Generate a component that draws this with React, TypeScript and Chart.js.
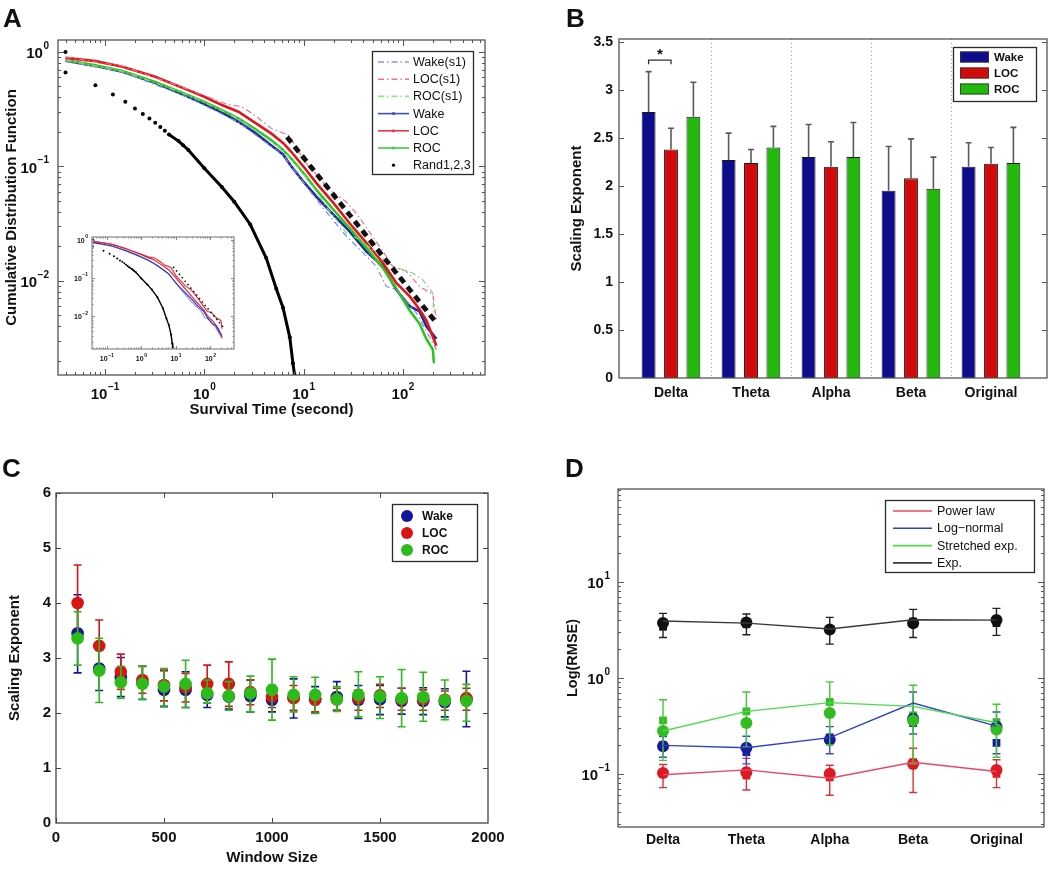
import React, { useEffect, useRef } from "react";
import { Chart, registerables } from "chart.js";
Chart.register(...registerables);

const SANS = '"Liberation Sans", Arial, Helvetica, sans-serif';
const FRAME = "#3c3c3c";
const DASHDOT = [6, 3, 1.5, 3];

// ================= Panel A : survival CDF =================
const survT = [0.04, 0.08, 0.15, 0.32, 0.69, 1.0, 1.5, 2.2, 3.2, 4.7, 6.2, 7.5, 10, 13.5, 20, 29, 43, 63, 86, 117, 147, 172, 217];
const wakeCdf = [0.835, 0.755, 0.67, 0.537, 0.405, 0.35, 0.296, 0.245, 0.198, 0.153, 0.127, 0.1, 0.073, 0.054, 0.0376, 0.027, 0.018, 0.0133, 0.0083, 0.006, 0.0054, 0.004, 0.0031];
const locCdf = [0.887, 0.83, 0.74, 0.605, 0.463, 0.405, 0.343, 0.3, 0.242, 0.194, 0.16, 0.134, 0.099, 0.071, 0.0476, 0.0318, 0.0213, 0.0143, 0.0095, 0.0073, 0.0056, 0.0045, 0.0027];
const rocT = [0.04, 0.08, 0.15, 0.32, 0.69, 1.0, 1.5, 2.2, 3.2, 4.7, 6.2, 7.5, 10, 13.5, 20, 29, 43, 63, 86, 117, 147, 172, 200, 205];
const rocCdf = [0.846, 0.765, 0.68, 0.547, 0.419, 0.366, 0.31, 0.262, 0.214, 0.17, 0.139, 0.117, 0.087, 0.062, 0.0417, 0.0288, 0.0193, 0.0129, 0.0085, 0.0055, 0.0042, 0.0031, 0.0025, 0.0019];
const wakeS1T = [0.04, 0.15, 0.69, 2.2, 6.2, 10, 13.5, 18.4, 27, 39.7, 54, 68, 86, 137, 217];
const wakeS1Cdf = [0.83, 0.665, 0.4, 0.243, 0.125, 0.072, 0.051, 0.0365, 0.0244, 0.0175, 0.0133, 0.0089, 0.0084, 0.0052, 0.0025];
const locS1T = [0.04, 0.15, 0.69, 1.6, 2.4, 3.2, 4.7, 6.9, 7.3, 10, 13.5, 18.4, 26.8, 33.8, 46.5, 63, 79, 108, 147, 200, 217];
const locS1Cdf = [0.9, 0.75, 0.47, 0.354, 0.33, 0.28, 0.215, 0.188, 0.181, 0.113, 0.084, 0.062, 0.049, 0.039, 0.0263, 0.018, 0.0133, 0.0121, 0.0089, 0.0076, 0.0046];
const rocS1T = [0.04, 0.15, 0.69, 2.2, 6.2, 10, 13.5, 17, 21.4, 27, 36.5, 54, 79, 125, 158, 200, 205];
const rocS1Cdf = [0.85, 0.68, 0.42, 0.262, 0.139, 0.085, 0.06, 0.044, 0.034, 0.026, 0.023, 0.0175, 0.0133, 0.0117, 0.0102, 0.0078, 0.0046];
const randT = [0.04, 0.04, 0.08, 0.12, 0.16, 0.2, 0.24, 0.28, 0.32, 0.36, 0.4, 0.44, 0.55, 0.61, 0.69, 1.0, 1.5, 2.0, 2.9, 4.2, 5.3, 6.2, 7.25, 7.8, 8.1];
const randCdf = [1.0, 0.66, 0.51, 0.425, 0.366, 0.32, 0.286, 0.262, 0.24, 0.22, 0.205, 0.19, 0.166, 0.153, 0.139, 0.096, 0.066, 0.049, 0.031, 0.0158, 0.0085, 0.0058, 0.0032, 0.0019, 0.0015];
const fitT = [6.8, 212];
const fitCdf = [0.18, 0.0044];
const insetFitT = [8.3, 245];
const insetFitCdf = [0.194, 0.0048];
const aTickX = [0.1, 1, 10, 100];
const aTickXExp = ["−1", "0", "1", "2"];
const aTickY = [1, 0.1, 0.01];
const aTickYExp = ["0", "−1", "−2"];
const aLegend = ["Wake(s1)", "LOC(s1)", "ROC(s1)", "Wake", "LOC", "ROC", "Rand1,2,3"];

// ================= Panel B : scaling exponents per band =================
const bands = ["Delta", "Theta", "Alpha", "Beta", "Original"];
const bandPos = [1, 2, 3, 4, 5];
const bWake = [2.77, 2.27, 2.3, 1.95, 2.2];
const bWakeErr = [3.19, 2.55, 2.64, 2.41, 2.45];
const bLoc = [2.38, 2.24, 2.2, 2.08, 2.23];
const bLocErr = [2.6, 2.38, 2.46, 2.49, 2.4];
const bRoc = [2.72, 2.4, 2.3, 1.97, 2.24];
const bRocErr = [3.08, 2.62, 2.66, 2.3, 2.61];
const bTicks = [0, 0.5, 1, 1.5, 2, 2.5, 3, 3.5];
const bSeparators = [1.5, 2.5, 3.5, 4.5];
const bSigLevel = 3.31;
const groups = ["Wake", "LOC", "ROC"];

// ================= Panel C : exponent vs window size =================
const windowSize = [100, 200, 300, 400, 500, 600, 700, 800, 900, 1000, 1100, 1200, 1300, 1400, 1500, 1600, 1700, 1800, 1900];
const cWake = [3.45, 2.81, 2.65, 2.55, 2.42, 2.42, 2.33, 2.3, 2.31, 2.24, 2.28, 2.25, 2.29, 2.24, 2.25, 2.22, 2.22, 2.2, 2.25];
const cWakeLo = [2.73, 2.41, 2.3, 2.25, 2.12, 2.1, 2.1, 2.07, 2.02, 2.02, 1.91, 2.0, 2.05, 1.9, 1.97, 1.98, 1.97, 1.93, 1.75];
const cWakeHi = [4.15, 3.2, 3.01, 2.85, 2.77, 2.75, 2.55, 2.55, 2.6, 2.5, 2.62, 2.48, 2.57, 2.5, 2.5, 2.45, 2.46, 2.44, 2.76];
const cLoc = [4.0, 3.22, 2.75, 2.6, 2.51, 2.47, 2.53, 2.53, 2.38, 2.3, 2.27, 2.24, 2.25, 2.27, 2.32, 2.25, 2.25, 2.24, 2.27];
const cLocLo = [3.31, 2.75, 2.43, 2.36, 2.22, 2.2, 2.18, 2.12, 2.15, 2.1, 2.05, 2.02, 2.05, 2.05, 2.1, 2.05, 2.05, 2.05, 2.05];
const cLocHi = [4.69, 3.69, 3.07, 2.85, 2.78, 2.72, 2.87, 2.93, 2.6, 2.5, 2.5, 2.4, 2.45, 2.42, 2.52, 2.45, 2.42, 2.4, 2.45];
const cRoc = [3.36, 2.77, 2.56, 2.53, 2.48, 2.53, 2.36, 2.31, 2.36, 2.42, 2.33, 2.33, 2.25, 2.33, 2.3, 2.27, 2.29, 2.23, 2.22];
const cRocLo = [2.87, 2.19, 2.27, 2.24, 2.11, 2.1, 2.18, 2.05, 2.02, 1.87, 2.02, 1.99, 2.03, 1.93, 1.9, 1.75, 1.85, 1.88, 1.85];
const cRocHi = [3.84, 3.36, 2.85, 2.84, 2.81, 2.96, 2.6, 2.57, 2.67, 2.98, 2.66, 2.65, 2.48, 2.75, 2.66, 2.79, 2.74, 2.6, 2.52];
const cTickX = [0, 500, 1000, 1500, 2000];
const cTickY = [0, 1, 2, 3, 4, 5, 6];

// ================= Panel D : fit errors =================
const dLegend = ["Power law", "Log−normal", "Stretched exp.", "Exp."];
const dPowLine = [0.098, 0.11, 0.09, 0.132, 0.106];
const dPowCirc = [0.102, 0.104, 0.1, 0.127, 0.11];
const dPowSq = [0.1, 0.096, 0.092, 0.132, 0.1];
const dPowLo = [0.072, 0.068, 0.06, 0.064, 0.072];
const dPowHi = [0.125, 0.145, 0.123, 0.185, 0.14];
const dLnLine = [0.198, 0.187, 0.238, 0.546, 0.314];
const dLnCirc = [0.194, 0.187, 0.226, 0.375, 0.31];
const dLnSq = [0.198, 0.168, 0.24, 0.338, 0.21];
const dLnLo = [0.149, 0.127, 0.162, 0.26, 0.162];
const dLnHi = [0.245, 0.246, 0.31, 0.71, 0.44];
const dStLine = [0.279, 0.447, 0.551, 0.504, 0.34];
const dStCirc = [0.279, 0.338, 0.43, 0.36, 0.29];
const dStSq = [0.36, 0.447, 0.56, 0.406, 0.345];
const dStLo = [0.138, 0.19, 0.2, 0.127, 0.149];
const dStHi = [0.59, 0.71, 0.905, 0.835, 0.53];
const dExpLine = [3.89, 3.7, 3.21, 4.01, 3.98];
const dExpCirc = [3.72, 3.75, 3.18, 3.68, 3.98];
const dExpSq = [3.39, 3.6, 3.2, 3.85, 3.7];
const dExpLo = [2.62, 2.8, 2.24, 2.62, 2.76];
const dExpHi = [4.68, 4.6, 4.25, 5.14, 5.27];
const dTickY = [10, 1, 0.1];
const dTickYExp = ["1", "0", "−1"];

// ================= helpers =================
const pts = (xs: number[], ys: number[]) => xs.map((x, i) => ({ x, y: ys[i] }));

function logTickValues(min: number, max: number) {
  const out: { v: number; major: boolean }[] = [];
  for (let d = Math.floor(Math.log10(min)); d <= Math.ceil(Math.log10(max)); d++) {
    for (let k = 1; k <= 9; k++) {
      const v = k * Math.pow(10, d);
      if (v >= min && v <= max) out.push({ v, major: k === 1 });
    }
  }
  return out;
}

function drawFrame(chart: any, color = FRAME, lw = 1.2) {
  const { ctx, chartArea: a } = chart;
  ctx.save();
  ctx.strokeStyle = color;
  ctx.lineWidth = lw;
  ctx.strokeRect(a.left, a.top, a.right - a.left, a.bottom - a.top);
  ctx.restore();
}

function innerTicks(chart: any, axis: "x" | "y", vals: number[], len: number, both = true, color = FRAME) {
  const { ctx, chartArea: a } = chart;
  const s = chart.scales[axis];
  ctx.save();
  ctx.strokeStyle = color;
  ctx.lineWidth = 1;
  ctx.beginPath();
  for (const v of vals) {
    const p = Math.round(s.getPixelForValue(v)) + 0.5;
    if (axis === "x") {
      if (p < a.left || p > a.right) continue;
      ctx.moveTo(p, a.bottom);
      ctx.lineTo(p, a.bottom - len);
      if (both) {
        ctx.moveTo(p, a.top);
        ctx.lineTo(p, a.top + len);
      }
    } else {
      if (p < a.top || p > a.bottom) continue;
      ctx.moveTo(a.left, p);
      ctx.lineTo(a.left + len, p);
      if (both) {
        ctx.moveTo(a.right, p);
        ctx.lineTo(a.right - len, p);
      }
    }
  }
  ctx.stroke();
  ctx.restore();
}

function powLabel(ctx: any, x: number, y: number, base: string, exp: string, size: number, align: "center" | "right") {
  const es = Math.max(4, Math.round(size * 0.66));
  ctx.save();
  ctx.fillStyle = "#111";
  ctx.textBaseline = "middle";
  ctx.textAlign = "left";
  ctx.font = `bold ${size}px ${SANS}`;
  const wb = ctx.measureText(base).width;
  ctx.font = `bold ${es}px ${SANS}`;
  const we = ctx.measureText(exp).width;
  const tot = wb + 0.5 + we;
  const x0 = align === "center" ? x - tot / 2 : x - tot;
  ctx.font = `bold ${size}px ${SANS}`;
  ctx.fillText(base, x0, y + size * 0.15);
  ctx.font = `bold ${es}px ${SANS}`;
  ctx.fillText(exp, x0 + wb + 0.5, y - size * 0.38);
  ctx.restore();
}

function legendBox(ctx: any, x: number, y: number, w: number, h: number) {
  ctx.save();
  ctx.fillStyle = "#fff";
  ctx.fillRect(x, y, w, h);
  ctx.strokeStyle = "#2a2a2a";
  ctx.lineWidth = 1.3;
  ctx.strokeRect(x + 0.5, y + 0.5, w, h);
  ctx.restore();
}

const errorBarPlugin = {
  id: "errbars",
  beforeDatasetDraw(chart: any, args: any) {
    const ds: any = chart.data.datasets[args.index];
    if (!ds.errHi) return;
    const { ctx } = chart;
    const ys = chart.scales.y;
    const c = ds.capHalf || 4;
    ctx.save();
    ctx.strokeStyle = ds.errColor;
    ctx.lineWidth = ds.errWidth || 1.5;
    ctx.beginPath();
    args.meta.data.forEach((el: any, j: number) => {
      const x = el.x;
      const y1 = ys.getPixelForValue(ds.errLo[j]);
      const y2 = ys.getPixelForValue(ds.errHi[j]);
      ctx.moveTo(x, y1);
      ctx.lineTo(x, y2);
      if (!ds.upOnly) {
        ctx.moveTo(x - c, y1);
        ctx.lineTo(x + c, y1);
      }
      ctx.moveTo(x - c, y2);
      ctx.lineTo(x + c, y2);
    });
    ctx.stroke();
    ctx.restore();
  },
};

const titleFont = (size: number) => ({ family: SANS, size, weight: "bold" as const, lineHeight: 1 });
const noGrid = { display: false, drawTicks: false };
const noBorder = { display: false };
const tickFont = (size: number) => ({ family: SANS, size, weight: "bold" as const, lineHeight: 1 });

// ================= Panel A config =================
function lineDs(xs: number[], ys: number[], color: string, width: number, dash: number[] = []) {
  return { data: pts(xs, ys), showLine: true, borderColor: color, borderWidth: width, borderDash: dash, pointRadius: 0, fill: false, tension: 0 };
}

function configA(): any {
  const xMin = 0.0336, xMax = 670, yMin = 0.0015, yMax = 1.27;
  const legendStyles = [
    { c: "#8a96e6", dash: DASHDOT },
    { c: "#f0708c", dash: DASHDOT },
    { c: "#96e096", dash: DASHDOT },
    { c: "#3f4cbf", dot: true },
    { c: "#ec3344", dot: true },
    { c: "#44c844", dot: true },
    { c: "#000", only: true },
  ];
  const plugin = {
    id: "panelA",
    afterDraw(chart: any) {
      const { ctx, chartArea: a, scales } = chart;
      drawFrame(chart, "#555", 1.3);
      const xt = logTickValues(xMin, xMax);
      const yt = logTickValues(yMin, yMax);
      innerTicks(chart, "x", xt.filter((t) => t.major).map((t) => t.v), 6, true, "#555");
      innerTicks(chart, "x", xt.filter((t) => !t.major).map((t) => t.v), 3, true, "#555");
      innerTicks(chart, "y", yt.filter((t) => t.major).map((t) => t.v), 6, true, "#555");
      innerTicks(chart, "y", yt.filter((t) => !t.major).map((t) => t.v), 3, true, "#555");
      aTickX.forEach((v, i) => powLabel(ctx, scales.x.getPixelForValue(v), a.bottom + 18, "10", aTickXExp[i], 15, "center"));
      aTickY.forEach((v, i) => powLabel(ctx, a.left - 9, scales.y.getPixelForValue(v), "10", aTickYExp[i], 15, "right"));
      legendBox(ctx, 372, 51, 101, 123);
      ctx.save();
      aLegend.forEach((lab, i) => {
        const y = 62 + i * 17.2;
        const st: any = legendStyles[i];
        if (st.only) {
          ctx.fillStyle = "#000";
          ctx.beginPath();
          ctx.arc(393.5, y, 1.6, 0, Math.PI * 2);
          ctx.fill();
        } else {
          ctx.strokeStyle = st.c;
          ctx.lineWidth = 1.6;
          ctx.setLineDash(st.dash || []);
          ctx.beginPath();
          ctx.moveTo(378, y);
          ctx.lineTo(409, y);
          ctx.stroke();
          ctx.setLineDash([]);
          if (st.dot) {
            ctx.fillStyle = st.c;
            ctx.beginPath();
            ctx.arc(393.5, y, 1.6, 0, Math.PI * 2);
            ctx.fill();
          }
        }
        ctx.fillStyle = "#111";
        ctx.font = `12.5px ${SANS}`;
        ctx.textBaseline = "middle";
        ctx.textAlign = "left";
        ctx.fillText(lab, 413, y + 0.5);
      });
      ctx.restore();
    },
  };
  return {
    type: "scatter",
    data: {
      datasets: [
        lineDs(fitT, fitCdf, "#111", 4.8, [7, 5]),
        lineDs(locS1T, locS1Cdf, "#f0708c", 1.2, DASHDOT),
        lineDs(rocS1T, rocS1Cdf, "#7fdc7f", 1.2, DASHDOT),
        lineDs(wakeS1T, wakeS1Cdf, "#7f8ce0", 1.2, DASHDOT),
        lineDs(survT, locCdf, "#e3141c", 2.6),
        lineDs(rocT, rocCdf, "#2ec41e", 2.6),
        lineDs(survT, wakeCdf, "#1f2ca0", 2.6),
        {
          data: pts(randT, randCdf),
          showLine: true,
          borderColor: "#000",
          borderWidth: 3,
          pointRadius: 2,
          pointBackgroundColor: "#000",
          pointBorderWidth: 0,
          segment: { borderColor: (c: any) => (c.p0.parsed.x < 0.43 ? "rgba(0,0,0,0)" : "#000") },
        },
      ],
    },
    options: {
      animation: false,
      responsive: false,
      events: [],
      layout: { padding: { top: 40, right: 40, left: 0, bottom: 0 } },
      plugins: { legend: { display: false }, tooltip: { enabled: false } },
      scales: {
        x: {
          type: "logarithmic", min: xMin, max: xMax, grid: noGrid, border: noBorder, ticks: { display: false },
          title: { display: true, text: "Survival Time (second)", color: "#111", font: titleFont(15), padding: { top: 0, bottom: 22.5 } },
          afterFit: (s: any) => { s.height = 65; },
        },
        y: {
          type: "logarithmic", min: yMin, max: yMax, grid: noGrid, border: noBorder, ticks: { display: false },
          title: { display: true, text: "Cumulative Distribution Function", color: "#111", font: titleFont(15), padding: { top: 4.5, bottom: 0 } },
          afterFit: (s: any) => { s.width = 58; },
        },
      },
    },
    plugins: [plugin],
  };
}

// inset of panel A
function configInset(): any {
  const xMin = 0.0372, xMax = 479, yMin = 0.00135, yMax = 1.175;
  const plugin = {
    id: "inset",
    beforeDraw(chart: any) {
      const { ctx, chartArea: a } = chart;
      ctx.save();
      ctx.fillStyle = "#fff";
      ctx.fillRect(a.left, a.top, a.right - a.left, a.bottom - a.top);
      ctx.restore();
    },
    afterDraw(chart: any) {
      const { ctx, chartArea: a, scales } = chart;
      drawFrame(chart, "#888", 1.2);
      const xt = logTickValues(xMin, xMax);
      const yt = logTickValues(yMin, yMax);
      innerTicks(chart, "x", xt.filter((t) => t.major).map((t) => t.v), 3, true, "#888");
      innerTicks(chart, "y", yt.filter((t) => t.major).map((t) => t.v), 3, true, "#888");
      innerTicks(chart, "x", xt.filter((t) => !t.major).map((t) => t.v), 1.5, true, "#888");
      innerTicks(chart, "y", yt.filter((t) => !t.major).map((t) => t.v), 1.5, true, "#888");
      aTickX.forEach((v, i) => powLabel(ctx, scales.x.getPixelForValue(v), a.bottom + 9, "10", aTickXExp[i], 7, "center"));
      aTickY.forEach((v, i) => powLabel(ctx, a.left - 4, scales.y.getPixelForValue(v), "10", aTickYExp[i], 7, "right"));
    },
  };
  return {
    type: "scatter",
    data: {
      datasets: [
        lineDs(insetFitT, insetFitCdf, "#111", 1.6, [1.5, 3]),
        lineDs(locS1T, locS1Cdf, "#e8283a", 1.1),
        lineDs(survT, wakeCdf, "#2a36b0", 1.1),
        lineDs(survT, locCdf, "#e01a28", 1.1),
        lineDs(wakeS1T, wakeS1Cdf, "#8a96e6", 1.1),
        {
          data: pts(randT, randCdf), showLine: true, borderColor: "#000", borderWidth: 1.4, pointRadius: 1, pointBackgroundColor: "#000", pointBorderWidth: 0,
          segment: { borderColor: (c: any) => (c.p0.parsed.x < 0.43 ? "rgba(0,0,0,0)" : "#000") },
        },
      ],
    },
    options: {
      animation: false,
      responsive: false,
      events: [],
      layout: { padding: { top: 5, right: 8, left: 0, bottom: 0 } },
      plugins: { legend: { display: false }, tooltip: { enabled: false } },
      scales: {
        x: { type: "logarithmic", min: xMin, max: xMax, grid: noGrid, border: noBorder, ticks: { display: false }, afterFit: (s: any) => { s.height = 16; } },
        y: { type: "logarithmic", min: yMin, max: yMax, grid: noGrid, border: noBorder, ticks: { display: false }, afterFit: (s: any) => { s.width = 22; } },
      },
    },
    plugins: [plugin],
  };
}

// ================= Panel B config =================
function configB(): any {
  const colors = ["#0c0c8c", "#d20a0a", "#22b80c"];
  const vals = [bWake, bLoc, bRoc];
  const errs = [bWakeErr, bLocErr, bRocErr];
  const plugin = {
    id: "panelB",
    beforeDatasetsDraw(chart: any) {
      const { ctx, chartArea: a, scales } = chart;
      ctx.save();
      ctx.strokeStyle = "#9a9a9a";
      ctx.lineWidth = 1;
      ctx.setLineDash([1, 3]);
      bSeparators.forEach((v) => {
        const x = Math.round(scales.x.getPixelForValue(v)) + 0.5;
        ctx.beginPath();
        ctx.moveTo(x, a.top);
        ctx.lineTo(x, a.bottom);
        ctx.stroke();
      });
      ctx.restore();
    },
    afterDraw(chart: any) {
      const { ctx, scales } = chart;
      drawFrame(chart, "#555", 1.3);
      innerTicks(chart, "y", bTicks, 5, true, "#555");
      const x1 = chart.getDatasetMeta(0).data[0].x;
      const x2 = chart.getDatasetMeta(1).data[0].x;
      const yb = scales.y.getPixelForValue(bSigLevel);
      ctx.save();
      ctx.strokeStyle = "#333";
      ctx.lineWidth = 1.3;
      ctx.beginPath();
      ctx.moveTo(x1, yb + 4);
      ctx.lineTo(x1, yb);
      ctx.lineTo(x2, yb);
      ctx.lineTo(x2, yb + 4);
      ctx.stroke();
      ctx.fillStyle = "#111";
      ctx.font = `bold 15px ${SANS}`;
      ctx.textAlign = "center";
      ctx.textBaseline = "middle";
      ctx.fillText("*", (x1 + x2) / 2, yb - 5);
      legendBox(ctx, 428, 47, 83, 54);
      groups.forEach((g, i) => {
        const y = 57 + i * 16;
        ctx.fillStyle = colors[i];
        ctx.fillRect(435, y - 5.5, 29, 11);
        ctx.strokeStyle = "#333";
        ctx.lineWidth = 0.8;
        ctx.strokeRect(435.5, y - 5, 28, 10);
        ctx.fillStyle = "#111";
        ctx.font = `bold 11.5px ${SANS}`;
        ctx.textAlign = "left";
        ctx.fillText(g, 469, y + 0.5);
      });
      ctx.restore();
    },
  };
  return {
    type: "bar",
    data: {
      datasets: groups.map((g, i) => ({
        label: g,
        data: pts(bandPos, vals[i]),
        backgroundColor: colors[i],
        borderColor: "#1a1a1a",
        borderWidth: 1,
        borderSkipped: "bottom",
        categoryPercentage: 0.84,
        barPercentage: 0.62,
        errLo: vals[i],
        errHi: errs[i],
        errColor: "#5a5a5a",
        errWidth: 1.6,
        capHalf: 3,
        upOnly: true,
      })),
    },
    options: {
      animation: false,
      responsive: false,
      events: [],
      layout: { padding: { top: 39, right: 3, left: 0, bottom: 0 } },
      plugins: { legend: { display: false }, tooltip: { enabled: false } },
      scales: {
        x: {
          type: "linear", min: 0.35, max: 5.7, offset: false, grid: noGrid, border: noBorder,
          afterBuildTicks: (s: any) => { s.ticks = bandPos.map((v) => ({ value: v })); },
          ticks: { color: "#111", font: tickFont(14), padding: 8, maxRotation: 0, autoSkip: false, callback: (v: any) => bands[Math.round(v) - 1] },
          afterFit: (s: any) => { s.height = 62; },
        },
        y: {
          type: "linear", min: 0, max: 3.53, grid: noGrid, border: noBorder,
          afterBuildTicks: (s: any) => { s.ticks = bTicks.map((v) => ({ value: v })); },
          ticks: { color: "#111", font: tickFont(14), padding: 6, callback: (v: any) => String(v) },
          title: { display: true, text: "Scaling Exponent", color: "#111", font: titleFont(15), padding: { top: 44.5, bottom: 0 } },
          afterFit: (s: any) => { s.width = 94; },
        },
      },
    },
    plugins: [errorBarPlugin, plugin],
  };
}

// ================= Panel C config =================
function configC(): any {
  const colors = ["#14149c", "#da1414", "#2cbb1a"];
  const plugin = {
    id: "panelC",
    afterDraw(chart: any) {
      const { ctx } = chart;
      drawFrame(chart, "#444", 1.3);
      innerTicks(chart, "x", cTickX, 5, true, "#444");
      innerTicks(chart, "y", cTickY, 5, true, "#444");
      legendBox(ctx, 392, 64, 85, 57);
      ctx.save();
      groups.forEach((g, i) => {
        const y = 76 + i * 17;
        ctx.fillStyle = colors[i];
        ctx.beginPath();
        ctx.arc(407, y, 6, 0, Math.PI * 2);
        ctx.fill();
        ctx.fillStyle = "#111";
        ctx.font = `bold 12px ${SANS}`;
        ctx.textAlign = "left";
        ctx.textBaseline = "middle";
        ctx.fillText(g, 422, y + 0.5);
      });
      ctx.restore();
    },
  };
  const mk = (ys: number[], lo: number[], hi: number[], color: string, label: string) => ({
    label, data: pts(windowSize, ys), pointRadius: 6.3, pointBackgroundColor: color, pointBorderWidth: 0, showLine: false,
    errLo: lo, errHi: hi, errColor: color, errWidth: 1.6, capHalf: 4,
  });
  return {
    type: "scatter",
    data: {
      datasets: [
        mk(cRoc, cRocLo, cRocHi, colors[2], "ROC"),
        mk(cLoc, cLocLo, cLocHi, colors[1], "LOC"),
        mk(cWake, cWakeLo, cWakeHi, colors[0], "Wake"),
      ],
    },
    options: {
      animation: false,
      responsive: false,
      events: [],
      layout: { padding: { top: 53, right: 37, left: 0, bottom: 0 } },
      plugins: { legend: { display: false }, tooltip: { enabled: false } },
      scales: {
        x: {
          type: "linear", min: 0, max: 2000, grid: noGrid, border: noBorder,
          afterBuildTicks: (s: any) => { s.ticks = cTickX.map((v) => ({ value: v })); },
          ticks: { color: "#111", font: tickFont(15), padding: 7, maxRotation: 0, autoSkip: false, callback: (v: any) => String(v) },
          title: { display: true, text: "Window Size", color: "#111", font: titleFont(15), padding: { top: 0, bottom: 4.5 } },
          afterFit: (s: any) => { s.height = 47; },
        },
        y: {
          type: "linear", min: 0, max: 6, grid: noGrid, border: noBorder,
          afterBuildTicks: (s: any) => { s.ticks = cTickY.map((v) => ({ value: v })); },
          ticks: { color: "#111", font: tickFont(15), padding: 5, callback: (v: any) => String(v) },
          title: { display: true, text: "Scaling Exponent", color: "#111", font: titleFont(15), padding: { top: 7.5, bottom: 0 } },
          afterFit: (s: any) => { s.width = 56; },
        },
      },
    },
    plugins: [errorBarPlugin, plugin],
  };
}

// ================= Panel D config =================
function configD(): any {
  const yMin = 0.028, yMax = 92;
  const lineColors = ["#e8466a", "#3040c8", "#4cdc4c", "#3a3a3a"];
  const markColors = ["#dc1a22", "#1a1a9a", "#33bb22", "#111"];
  const errColors = ["#e0303c", "#3a48cc", "#44c833", "#222"];
  const lines = [dPowLine, dLnLine, dStLine, dExpLine];
  const circ = [dPowCirc, dLnCirc, dStCirc, dExpCirc];
  const sq = [dPowSq, dLnSq, dStSq, dExpSq];
  const lo = [dPowLo, dLnLo, dStLo, dExpLo];
  const hi = [dPowHi, dLnHi, dStHi, dExpHi];
  const plugin = {
    id: "panelD",
    afterDraw(chart: any) {
      const { ctx, chartArea: a, scales } = chart;
      drawFrame(chart, "#555", 1.3);
      const yt = logTickValues(yMin, yMax);
      innerTicks(chart, "y", yt.filter((t) => t.major).map((t) => t.v), 6, true, "#555");
      innerTicks(chart, "y", yt.filter((t) => !t.major).map((t) => t.v), 3, true, "#555");
      dTickY.forEach((v, i) => powLabel(ctx, a.left - 8, scales.y.getPixelForValue(v), "10", dTickYExp[i], 15, "right"));
      legendBox(ctx, 360, 60, 149, 72);
      ctx.save();
      dLegend.forEach((lab, i) => {
        const y = 71 + i * 17.3;
        ctx.strokeStyle = lineColors[i];
        ctx.lineWidth = 1.6;
        ctx.beginPath();
        ctx.moveTo(368, y);
        ctx.lineTo(407, y);
        ctx.stroke();
        ctx.fillStyle = "#111";
        ctx.font = `12.5px ${SANS}`;
        ctx.textAlign = "left";
        ctx.textBaseline = "middle";
        ctx.fillText(lab, 412, y + 0.5);
      });
      ctx.restore();
    },
  };
  const order = [3, 2, 1, 0];
  const circleSets = order.map((k) => ({
    data: pts(bandPos, circ[k]), showLine: false, pointRadius: 6, pointStyle: "circle", pointBackgroundColor: markColors[k], pointBorderWidth: 0,
    errLo: lo[k], errHi: hi[k], errColor: errColors[k], errWidth: 1.4, capHalf: 4,
  }));
  const squareSets = order.map((k) => ({
    data: pts(bandPos, sq[k]), showLine: false, pointRadius: 5.5, pointStyle: "rect", pointBackgroundColor: markColors[k], pointBorderWidth: 0,
  }));
  const lineSets = order.map((k) => ({
    data: pts(bandPos, lines[k]), showLine: true, borderColor: lineColors[k], borderWidth: 1.4, pointRadius: 0, fill: false, tension: 0,
  }));
  return {
    type: "scatter",
    data: { datasets: [...lineSets, ...circleSets, ...squareSets] },
    options: {
      animation: false,
      responsive: false,
      events: [],
      layout: { padding: { top: 49, right: 6, left: 0, bottom: 0 } },
      plugins: { legend: { display: false }, tooltip: { enabled: false } },
      scales: {
        x: {
          type: "linear", min: 0.46, max: 5.57, grid: noGrid, border: noBorder,
          afterBuildTicks: (s: any) => { s.ticks = bandPos.map((v) => ({ value: v })); },
          ticks: { color: "#111", font: tickFont(14), padding: 6, maxRotation: 0, autoSkip: false, callback: (v: any) => bands[Math.round(v) - 1] },
          afterFit: (s: any) => { s.height = 43; },
        },
        y: {
          type: "logarithmic", min: yMin, max: yMax, grid: noGrid, border: noBorder, ticks: { display: false },
          title: { display: true, text: "Log(RMSE)", color: "#111", font: titleFont(14.5), padding: { top: 40.5, bottom: 0 } },
          afterFit: (s: any) => { s.width = 93; },
        },
      },
    },
    plugins: [errorBarPlugin, plugin],
  };
}

// ================= React =================
function ChartCanvas(props: { left: number; top: number; width: number; height: number; make: () => any }) {
  const ref = useRef<HTMLCanvasElement>(null);
  useEffect(() => {
    const chart = new Chart(ref.current as HTMLCanvasElement, props.make());
    return () => chart.destroy();
  }, []);
  return (
    <canvas
      ref={ref}
      width={props.width}
      height={props.height}
      style={{ position: "absolute", left: props.left, top: props.top, width: props.width, height: props.height, display: "block" }}
    />
  );
}

const letterStyle = (left: number, top: number): React.CSSProperties => ({
  position: "absolute", left, top, fontFamily: SANS, fontWeight: "bold", fontSize: 26, lineHeight: "26px", color: "#111",
});

export default function App() {
  return (
    <div style={{ position: "absolute", left: 0, top: 0, width: 1050, height: 870, background: "#fff", overflow: "hidden" }}>
      <ChartCanvas left={0} top={0} width={525} height={440} make={configA} />
      <ChartCanvas left={70} top={232} width={172} height={133} make={configInset} />
      <ChartCanvas left={525} top={0} width={525} height={440} make={configB} />
      <ChartCanvas left={0} top={440} width={525} height={430} make={configC} />
      <ChartCanvas left={525} top={440} width={525} height={430} make={configD} />
      <div style={letterStyle(3, 5)}>A</div>
      <div style={letterStyle(566, 5)}>B</div>
      <div style={letterStyle(2, 455)}>C</div>
      <div style={letterStyle(565, 455)}>D</div>
    </div>
  );
}
